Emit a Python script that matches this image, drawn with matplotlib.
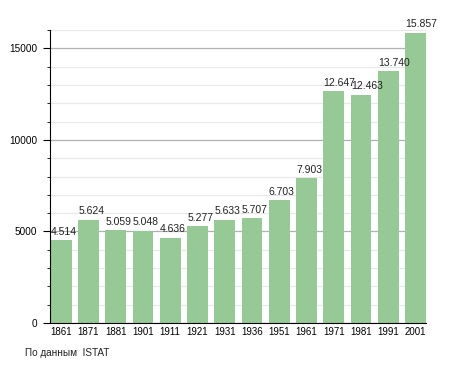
import matplotlib.pyplot as plt
from matplotlib.ticker import MultipleLocator

plt.rcParams['font.family'] = ['Liberation Sans', 'DejaVu Sans']

years = ['1861', '1871', '1881', '1901', '1911', '1921', '1931',
         '1936', '1951', '1961', '1971', '1981', '1991', '2001']
population = [4514, 5624, 5059, 5048, 4636, 5277, 5633,
              5707, 6703, 7903, 12647, 12463, 13740, 15857]
labels = ['4.514', '5.624', '5.059', '5.048', '4.636', '5.277', '5.633',
          '5.707', '6.703', '7.903', '12.647', '12.463', '13.740', '15.857']

fig = plt.figure(figsize=(4.55, 3.73), dpi=100, facecolor='white')
ax = fig.add_axes([50 / 455, 50 / 373, 376 / 455, 293 / 373])

bar_w = 0.76
idx = list(range(len(years)))
ax.bar(idx, population, width=bar_w, align='edge', color='#96c996', zorder=3)

# value labels, left aligned at the bar's left edge
for i, v in enumerate(population):
    ax.text(i, v + 200, labels[i], ha='left', va='bottom', fontsize=7.5,
            color='#222222', zorder=4, clip_on=False)

ax.set_xlim(-0.03, len(years) - 1 + bar_w)
ax.set_ylim(0, 16000)
ax.set_xticks([i + bar_w / 2 for i in idx])
ax.set_xticklabels(years, fontsize=7)
ax.tick_params(axis='x', length=0, pad=3)

ax.yaxis.set_major_locator(MultipleLocator(5000))
ax.yaxis.set_minor_locator(MultipleLocator(1000))
ax.tick_params(axis='y', which='major', length=5, labelsize=7.2, pad=4)
ax.tick_params(axis='y', which='minor', length=2)
ax.grid(axis='y', which='major', color='#b0b0b0', linewidth=0.9, zorder=1)
ax.grid(axis='y', which='minor', color='#e8e8e8', linewidth=0.9, zorder=1)

for s in ['top', 'right']:
    ax.spines[s].set_visible(False)
ax.spines['left'].set_zorder(5)
ax.spines['bottom'].set_zorder(5)

fig.text(25 / 455, 1 - 353 / 373, 'По данным  ISTAT', fontsize=7.2,
         ha='left', va='center', color='#222222')

fig.savefig('out.png', dpi=100)
